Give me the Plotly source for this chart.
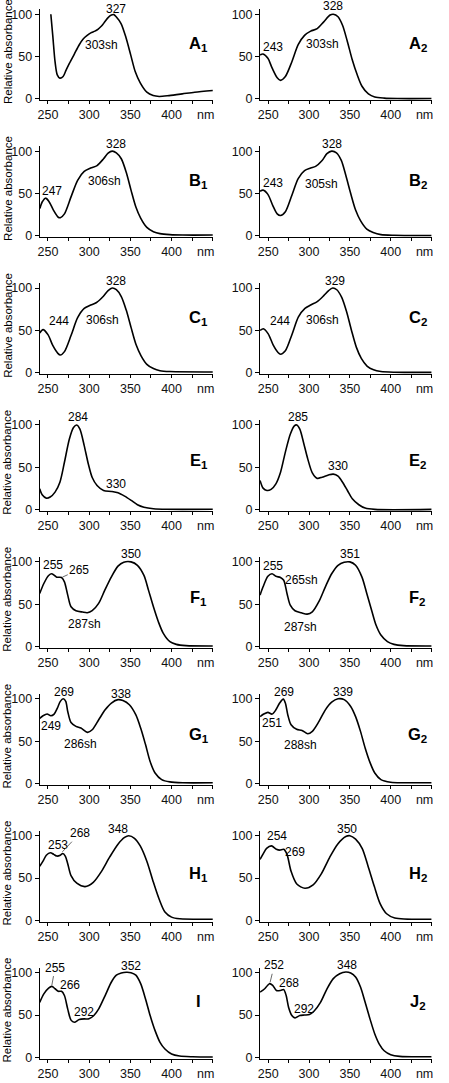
import plotly.graph_objects as go

# ---------------- data (wavelength in nm, relative absorbance) ----------------
A1_nm  = [253.5, 256, 258.6, 261.3, 264.5, 268.4, 272, 276, 282, 288, 293, 297.6, 302, 307, 311, 315, 319, 323, 327, 330, 332.8, 338.7, 344.5, 350.4, 356, 362, 370, 377.7, 385, 397, 413, 428, 450]
A1_abs = [100, 73, 44, 28.5, 24.6, 26.5, 34, 42, 53, 64, 71, 75, 78, 80, 82.5, 86, 91, 96, 99, 99.5, 97, 89, 73, 52, 32, 19, 8, 4, 3, 4, 6, 8, 10]

A2_nm  = [240, 243.7, 249.6, 255, 261, 265, 271, 279, 286.7, 294.5, 302, 310, 318, 325.8, 329.7, 335.5, 341, 347, 353, 359, 364.8, 372.7, 380.5, 392, 408, 450]
A2_abs = [52, 53, 48, 36, 25, 22, 26.5, 44, 64, 75, 80, 83, 91, 99, 100, 97, 87, 67.6, 46, 28.5, 15, 6, 2.3, 1, 0.5, 0.5]

B1_nm  = [240.2, 243, 247, 251, 256.6, 262.5, 265, 270, 278, 286, 294, 301.8, 309.6, 317.5, 323, 328, 333, 339, 345, 350.8, 356.7, 362.5, 370, 378, 386, 398, 413.5, 450]
B1_abs = [32.4, 40, 44.5, 41, 30.5, 22, 21.5, 26, 46, 65.6, 76, 80, 83, 91, 97.6, 100, 98, 91, 75, 54, 34, 21, 10, 5, 2.7, 1.5, 1, 1]

B2_nm  = [240, 243.7, 249.6, 255.5, 261, 265, 271, 279, 286.7, 294.5, 302, 308, 316, 321.9, 327.7, 333.6, 339.5, 345, 351, 357, 363, 370.7, 378.5, 388, 404, 450]
B2_abs = [52.7, 54, 49, 36, 26, 24, 28.5, 48, 67.6, 77, 80, 82, 89, 97, 100, 98, 89, 71.5, 50, 30.5, 18, 8, 4, 1.5, 0.7, 0.5]

C1_nm  = [240, 244, 250, 256, 262, 265, 270, 278, 286, 294, 302, 309, 317, 323, 328, 333, 339, 345, 351, 357, 363, 370, 378, 386, 398, 450]
C1_abs = [47, 51, 45, 32, 23, 21, 25, 44, 65, 76, 80, 83, 90, 97, 100, 98, 90, 74, 53, 33, 20, 10, 5, 2.5, 1.5, 1]

C2_nm  = [240, 244, 250, 256, 262, 265, 271, 279, 287, 295, 302, 310, 318, 324, 329, 334, 340, 346, 352, 358, 364, 371, 379, 388, 404, 450]
C2_abs = [50, 52, 46, 33, 24, 22, 26, 45, 66, 76, 80, 84, 91, 97, 100, 98, 89, 72, 50, 30, 17, 8, 3.5, 1.5, 0.7, 0.5]

E1_nm  = [240, 243, 248, 252.7, 258.6, 264.5, 270, 276, 281, 285, 288.8, 294, 299, 303.7, 309.6, 317.5, 327, 335, 343, 351, 358.6, 366.5, 378, 394, 450]
E1_abs = [24.7, 17.6, 13.7, 15, 20.8, 32.5, 56, 83.5, 97, 100, 95, 75.7, 54, 38, 28.6, 22.7, 21.6, 20, 16, 11, 5.9, 3, 1.2, 0.5, 0.5]

E2_nm  = [240, 243.7, 248.4, 253.5, 259.4, 265, 271, 277, 282, 285, 288.7, 293.7, 298.4, 304, 310, 316, 323.8, 329.7, 335.5, 341, 347, 353, 361, 368.7, 380.5, 450]
E2_abs = [34.5, 25.5, 22.7, 24, 30.6, 44, 68, 89, 99, 100, 95, 77.6, 60, 43.5, 37, 38.4, 41, 42, 39.6, 32.5, 22.7, 13, 5.9, 2, 0.4, 0.4]

F1_nm  = [240, 245, 250.8, 254.7, 260.6, 266.5, 270, 274, 278, 284, 292, 297.8, 303.7, 311.5, 319, 327, 335, 342, 350.8, 358.6, 366.5, 372, 378, 384, 390, 398, 405.7, 417.5, 450]
F1_abs = [62.7, 74.5, 84, 86, 82, 81.6, 76.5, 60.8, 47, 42.4, 40.8, 40, 42.4, 51, 66.7, 82.4, 95, 99.6, 100, 96, 84, 66.7, 47, 29.4, 15.7, 5.9, 2.7, 1.2, 0.8]

F2_nm  = [240, 243.7, 249.6, 254.7, 259.4, 265, 269, 273, 277, 282.8, 290.6, 297.7, 304, 312, 320, 327.7, 335.5, 343, 350, 357, 364.8, 370.7, 376.6, 382, 388, 396, 404, 415.6, 450]
F2_abs = [60.8, 70.6, 83, 86, 83, 81.6, 78.4, 62.7, 49, 42.4, 40, 38.4, 41, 53, 70.6, 86, 96, 99.6, 100, 96, 82, 62.7, 43, 25.5, 13.7, 5.9, 2.7, 1.2, 0.8]

G1_nm  = [240, 244, 249, 253.5, 257.5, 261.4, 265, 268.5, 271.6, 274, 278, 284, 290, 298, 303.7, 311.6, 319.4, 327, 335, 341, 348.8, 356.7, 362.5, 368.4, 374, 380, 388, 398, 413.5, 450]
G1_abs = [77, 80, 82, 80, 82, 89, 97, 100, 97, 85, 72, 67.5, 65.5, 60.4, 63.5, 75.3, 87, 95, 99, 98, 93, 81, 65.5, 46, 26, 12.5, 4.7, 2, 1, 1]

G2_nm  = [240, 244.5, 249.6, 254.7, 259.4, 264, 268.5, 271, 274, 278, 284.8, 291.4, 298.4, 304, 312, 320, 327.7, 335.5, 343, 351, 357, 363, 368.7, 374.6, 380.5, 388, 400, 415.6, 450]
G2_abs = [79, 82, 84, 82, 87, 95, 99.6, 95, 81, 69.4, 64, 62.7, 58.8, 61.6, 73, 87, 96, 100, 99, 91, 79, 61.6, 42, 25, 12.5, 4.7, 1.6, 1, 1]

H1_nm  = [240, 244, 248, 253, 257, 261, 265, 268, 271, 274, 278, 285, 295, 305, 315, 325, 335, 343, 348, 355, 362, 370, 378, 385, 392, 400, 410, 450]
H1_abs = [64, 70, 77, 80, 78, 76, 77, 79, 76, 67, 53, 44, 40, 45, 58, 75, 90, 98, 100, 97, 88, 70, 45, 25, 10, 4, 2, 1.5]

H2_nm  = [240, 244, 248, 254, 260, 264, 269, 273, 278, 285, 295, 305, 315, 325, 335, 345, 350, 357, 365, 372, 380, 387, 395, 405, 450]
H2_abs = [72, 79, 85, 88, 84, 83, 84, 78, 58, 43, 38, 42, 55, 74, 90, 99, 100, 96, 85, 65, 40, 20, 8, 3, 1.5]

I_nm   = [240, 245, 250.8, 254.7, 258.6, 262.5, 266.5, 270, 274, 278, 282, 288, 294, 299.8, 305.7, 311.6, 319.4, 327, 333, 339, 345, 350.8, 356.7, 362.5, 368.4, 374, 380, 386, 392, 400, 409.8, 425.5, 450]
I_abs  = [65, 75, 81.8, 83.8, 81, 78, 78, 73, 57, 44, 41.5, 44.7, 45.5, 45.5, 49.4, 57.3, 73, 89, 97, 99.5, 100.5, 100, 97, 87, 69, 49.4, 31.6, 17.8, 9.9, 4, 1.6, 0.8, 0.5]

J2_nm  = [240, 245.7, 251.5, 255.5, 260, 265, 269, 272, 275, 279, 282.8, 288.7, 294.5, 300.4, 306, 314, 322, 329.7, 337.5, 345, 351, 357, 363, 368.7, 374.6, 380.5, 386, 392, 400, 411, 450]
J2_abs = [77, 81, 87, 85, 79, 79, 80, 73, 59, 49.4, 46.6, 49.4, 50, 50.6, 54.5, 65, 81, 93, 98.8, 100.8, 99.6, 94.8, 83, 65, 45.5, 27.7, 15.8, 7.9, 3.2, 1.2, 0.8]

# peak labels: (text, x, y, leader-target-x or None, leader-target-y)
PEAKS = {
    "A1": [("327", 332.8, 106, None, None), ("303sh", 315, 64, None, None)],
    "A2": [("243", 255.5, 61.7, None, None), ("303sh", 316, 64.5, None, None), ("328", 329.7, 109.5, None, None)],
    "B1": [("247", 254.7, 53, None, None), ("306sh", 318.6, 65, None, None), ("328", 332, 108.6, None, None)],
    "B2": [("243", 255.5, 62.5, None, None), ("305sh", 315, 61.7, None, None), ("328", 327.7, 109, None, None)],
    "C1": [("244", 263, 61, None, None), ("306sh", 315.6, 62, None, None), ("328", 332, 108, None, None)],
    "C2": [("244", 264.5, 61, None, None), ("306sh", 316.5, 62, None, None), ("329", 331.5, 108, None, None)],
    "E1": [("284", 286, 109, None, None), ("330", 333, 30.6, None, None)],
    "E2": [("285", 286.7, 109, None, None), ("330", 335.5, 51.4, None, None)],
    "F1": [("255", 256.7, 96, None, None), ("265", 288, 91, 267.5, 82), ("287sh", 294, 26.7, None, None), ("350", 350.8, 109, None, None)],
    "F2": [("255", 255.5, 95, None, None), ("265sh", 291, 78.4, None, None), ("287sh", 290, 23.5, None, None), ("351", 350, 109, None, None)],
    "G1": [("269", 269.6, 108, None, None), ("249", 253.5, 68, None, None), ("286sh", 290, 46.7, None, None), ("338", 339, 106, None, None)],
    "G2": [("269", 269, 108, None, None), ("251", 254.7, 72, None, None), ("288sh", 290, 46, None, None), ("339", 341.4, 108, None, None)],
    "H1": [("253", 262, 89, None, None), ("268", 288.7, 103, 267.5, 81), ("348", 334.5, 108, None, None)],
    "H2": [("254", 261, 100, None, None), ("269", 283, 81, None, None), ("350", 346, 108, None, None)],
    "I":  [("255", 258.6, 106, 254.7, 85), ("266", 277, 85.4, None, None), ("292", 293.6, 53.4, None, None), ("352", 350.8, 108, None, None)],
    "J2": [("252", 257.4, 108.7, 252.3, 88.5), ("268", 275.8, 87.4, None, None), ("292", 293.8, 57.3, None, None), ("348", 347, 108.7, None, None)],
}

PANELS = [
    ("A1", "A", "1", A1_nm, A1_abs, 65), ("A2", "A", "2", A2_nm, A2_abs, 65),
    ("B1", "B", "1", B1_nm, B1_abs, 65), ("B2", "B", "2", B2_nm, B2_abs, 65),
    ("C1", "C", "1", C1_nm, C1_abs, 65), ("C2", "C", "2", C2_nm, C2_abs, 65),
    ("E1", "E", "1", E1_nm, E1_abs, 57), ("E2", "E", "2", E2_nm, E2_abs, 57),
    ("F1", "F", "1", F1_nm, F1_abs, 57), ("F2", "F", "2", F2_nm, F2_abs, 57),
    ("G1", "G", "1", G1_nm, G1_abs, 57), ("G2", "G", "2", G2_nm, G2_abs, 57),
    ("H1", "H", "1", H1_nm, H1_abs, 55), ("H2", "H", "2", H2_nm, H2_abs, 55),
    ("I", "I", "", I_nm, I_abs, 67), ("J2", "J", "2", J2_nm, J2_abs, 65),
]

X_TICKS = [250, 300, 350, 400, 450]
X_TEXT = ["250", "300", "350", "400", "nm\u00a0\u00a0\u00a0\u00a0"]
X_MINOR = [275, 325, 375, 425]
Y_TICKS = [0, 50, 100]

# ---------------- layout geometry ----------------
FONT = "Arial, 'Liberation Sans', sans-serif"
W, H = 449, 1083
LEFT = (39.2, 219.3)
RIGHT = (268.2, 446.7)
Y0 = 97.7
ROW = 137.94
PXU = 0.854
YMIN, YMAX = -1.5, 106

fig = go.Figure()
annotations = []
layout = {}

for k, (key, letter, sub, nm, ab, lab_y) in enumerate(PANELS):
    r, c = divmod(k, 2)
    n = k + 1
    xs = "x" if n == 1 else f"x{n}"
    ys = "y" if n == 1 else f"y{n}"
    xname = "xaxis" if n == 1 else f"xaxis{n}"
    yname = "yaxis" if n == 1 else f"yaxis{n}"
    px0, px1 = LEFT if c == 0 else RIGHT
    zero = Y0 + r * ROW
    top = zero - YMAX * PXU
    bot = zero - YMIN * PXU

    def ypaper(v, zero=zero):
        return 1 - (zero - v * PXU) / H

    fig.add_trace(go.Scatter(
        x=nm, y=ab, mode="lines",
        line=dict(color="black", width=1.6, shape="spline", smoothing=0.8),
        xaxis=xs, yaxis=ys, showlegend=False, hoverinfo="skip"))

    layout[xname] = dict(
        domain=[px0 / W, px1 / W], range=[240, 450.3], anchor=ys,
        tickmode="array", tickvals=X_TICKS, ticktext=X_TEXT,
        ticks="outside", ticklen=3, tickwidth=1, tickcolor="black",
        minor=dict(tickmode="array", tickvals=X_MINOR, ticks="outside",
                   ticklen=3, tickwidth=1, tickcolor="black", showgrid=False),
        showline=True, linecolor="black", linewidth=1,
        showgrid=False, zeroline=False,
        tickfont=dict(family=FONT, size=12.5, color="#111"),
        fixedrange=True)
    layout[yname] = dict(
        domain=[1 - bot / H, 1 - top / H], range=[YMIN, YMAX], anchor=xs,
        tickmode="array", tickvals=Y_TICKS,
        ticks="outside", ticklen=4, tickwidth=1, tickcolor="black",
        showline=True, linecolor="black", linewidth=1,
        showgrid=False, zeroline=False,
        tickfont=dict(family=FONT, size=12.5, color="#111"),
        fixedrange=True)

    # panel label
    label = f"<b>{letter}<sub>{sub}</sub></b>" if sub else f"<b>{letter}</b>"
    annotations.append(dict(
        text=label, x=433, y=ypaper(lab_y), xref=xs, yref="paper",
        showarrow=False, xanchor="center", yanchor="middle",
        font=dict(family=FONT, size=16.5, color="black")))

    # peak labels
    for (txt, tx, ty, lx, ly) in PEAKS[key]:
        if lx is None:
            annotations.append(dict(
                text=txt, x=tx, y=ypaper(ty), xref=xs, yref="paper", showarrow=False,
                xanchor="center", yanchor="middle",
                font=dict(family=FONT, size=12, color="black")))
        else:
            annotations.append(dict(
                text=txt, x=lx, y=ly, ax=tx, ay=ty, axref=xs, ayref=ys,
                xref=xs, yref=ys, showarrow=True, arrowhead=0,
                arrowwidth=0.8, arrowcolor="#444", standoff=0,
                xanchor="center", yanchor="middle",
                font=dict(family=FONT, size=12, color="black")))

    # y axis title on left column
    if c == 0:
        annotations.append(dict(
            text="Relative absorbance", x=5.5 / W, y=1 - ((top + bot) / 2 - 3) / H,
            xref="paper", yref="paper", showarrow=False, textangle=-90,
            xanchor="center", yanchor="middle",
            font=dict(family=FONT, size=11.5, color="black")))

fig.update_layout(
    width=W, height=H,
    margin=dict(l=0, r=0, t=0, b=0),
    paper_bgcolor="white", plot_bgcolor="white",
    annotations=annotations,
    **layout)

fig.write_html(
    "out.html",
    config={"displayModeBar": False},
    post_script="document.body.style.margin='0';document.body.style.padding='0';"
                "document.documentElement.style.overflow='hidden';")
